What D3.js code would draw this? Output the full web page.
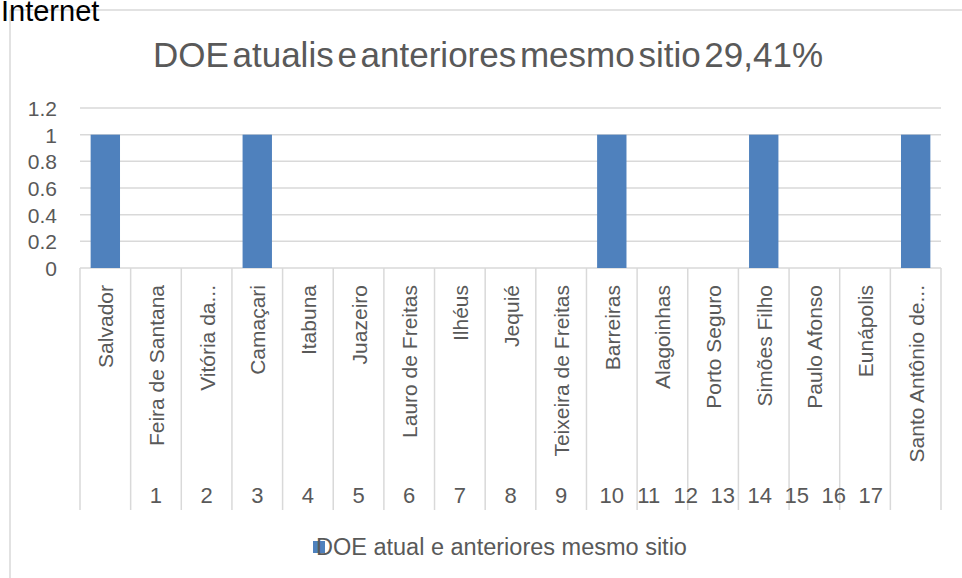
<!DOCTYPE html>
<html lang="pt">
<head>
    <meta charset="UTF-8">
    <title>DOE atualis e anteriores mesmo sitio</title>
    <script src="https://d3js.org/d3.v7.min.js"></script>
    <style>
        body {
            margin: 0;
            padding: 0;
            background: white;
            font-family: "Liberation Sans", Arial, sans-serif;
        }
        svg text {
            font-family: "Liberation Sans", Arial, sans-serif;
        }
    </style>
</head>
<body>
    <svg id="chart" width="962" height="578"></svg>

    <script>
        // data
        let categories = ["Salvador", "Feira de Santana", "Vitória da...", "Camaçari", "Itabuna", "Juazeiro",
            "Lauro de Freitas", "Ilhéus", "Jequié", "Teixeira de Freitas", "Barreiras", "Alagoinhas",
            "Porto Seguro", "Simões Filho", "Paulo Afonso", "Eunápolis", "Santo Antônio de..."];
        let values = [1, 0, 0, 1, 0, 0, 0, 0, 0, 0, 1, 0, 0, 1, 0, 0, 1];
        let outerLabels = ["", "1", "2", "3", "4", "5", "6", "7", "8", "9", "10", "11", "12", "13", "14", "15", "16", "17"];
        let yTicks = [0, 0.2, 0.4, 0.6, 0.8, 1, 1.2];
        let seriesName = "DOE atual e anteriores mesmo sitio";
        let title = "DOE atualis e anteriores mesmo sitio 29,41%";

        let svg = d3.select("#chart");
        let textColor = "#595959", gridColor = "#d9d9d9", barColor = "#4f81bd";
        let plotLeft = 80, plotRight = 941, plotTop = 108, plotBottom = 268;

        // frame lines
        svg.append("line").attr("x1", 10).attr("x2", 962).attr("y1", 10).attr("y2", 10)
            .attr("stroke", gridColor).attr("stroke-width", 1.5);
        svg.append("line").attr("x1", 10).attr("x2", 10).attr("y1", 10).attr("y2", 578)
            .attr("stroke", gridColor).attr("stroke-width", 1.5);

        svg.append("text")
            .attr("x", 1).attr("y", 21)
            .attr("font-size", "29px")
            .attr("fill", "black")
            .text("Internet");

        svg.append("text")
            .attr("x", 488).attr("y", 67)
            .attr("text-anchor", "middle")
            .attr("font-size", "35px")
            .attr("word-spacing", "-6px")
            .attr("fill", textColor)
            .text(title);

        let x = d3.scaleBand().domain(categories).range([plotLeft, plotRight]).paddingInner(0.42).paddingOuter(0.21);
        let step = x.step();
        let y = d3.scaleLinear().domain([0, 1.2]).range([plotBottom, plotTop]);

        // gridlines
        svg.append("g").selectAll("line").data(yTicks).join("line")
            .attr("x1", plotLeft).attr("x2", plotRight)
            .attr("y1", d => y(d)).attr("y2", d => y(d))
            .attr("stroke", gridColor).attr("stroke-width", 1.5);

        // y labels
        svg.append("g").selectAll("text").data(yTicks).join("text")
            .attr("x", 57).attr("y", d => y(d) + 8)
            .attr("text-anchor", "end")
            .attr("font-size", "21px")
            .attr("fill", textColor)
            .text(d => d);

        // bars
        svg.append("g").selectAll("rect").data(categories).join("rect")
            .attr("x", d => x(d))
            .attr("width", x.bandwidth())
            .attr("y", (d, i) => y(values[i]))
            .attr("height", (d, i) => y(0) - y(values[i]))
            .attr("fill", barColor);

        // category separators
        let bounds = d3.range(categories.length + 1).map(i => plotLeft + i * step);
        svg.append("g").selectAll("line").data(bounds).join("line")
            .attr("x1", d => d).attr("x2", d => d)
            .attr("y1", plotBottom).attr("y2", 510)
            .attr("stroke", gridColor).attr("stroke-width", 1.5);

        // rotated category labels
        svg.append("g").selectAll("text").data(categories).join("text")
            .attr("transform", d => `translate(${x(d) + x.bandwidth() / 2 + 8},285) rotate(-90)`)
            .attr("text-anchor", "end")
            .attr("font-size", "21px")
            .attr("fill", textColor)
            .text(d => d);

        // outer level numbers (Excel squeezes the last ones together)
        let center = i => plotLeft + (i + 0.5) * step;
        svg.append("g").selectAll("text").data(outerLabels).join("text")
            .attr("x", (d, i) => i <= 10 ? center(i) : center(10) + (i - 10) * 37)
            .attr("y", 503)
            .attr("text-anchor", "middle")
            .attr("font-size", "22px")
            .attr("fill", textColor)
            .text(d => d);

        // legend
        svg.append("rect").attr("x", 313).attr("y", 541).attr("width", 12).attr("height", 12).attr("fill", barColor);
        svg.append("text")
            .attr("x", 316).attr("y", 555)
            .attr("font-size", "23.5px")
            .attr("fill", textColor)
            .text(seriesName);
    </script>
</body>
</html>
